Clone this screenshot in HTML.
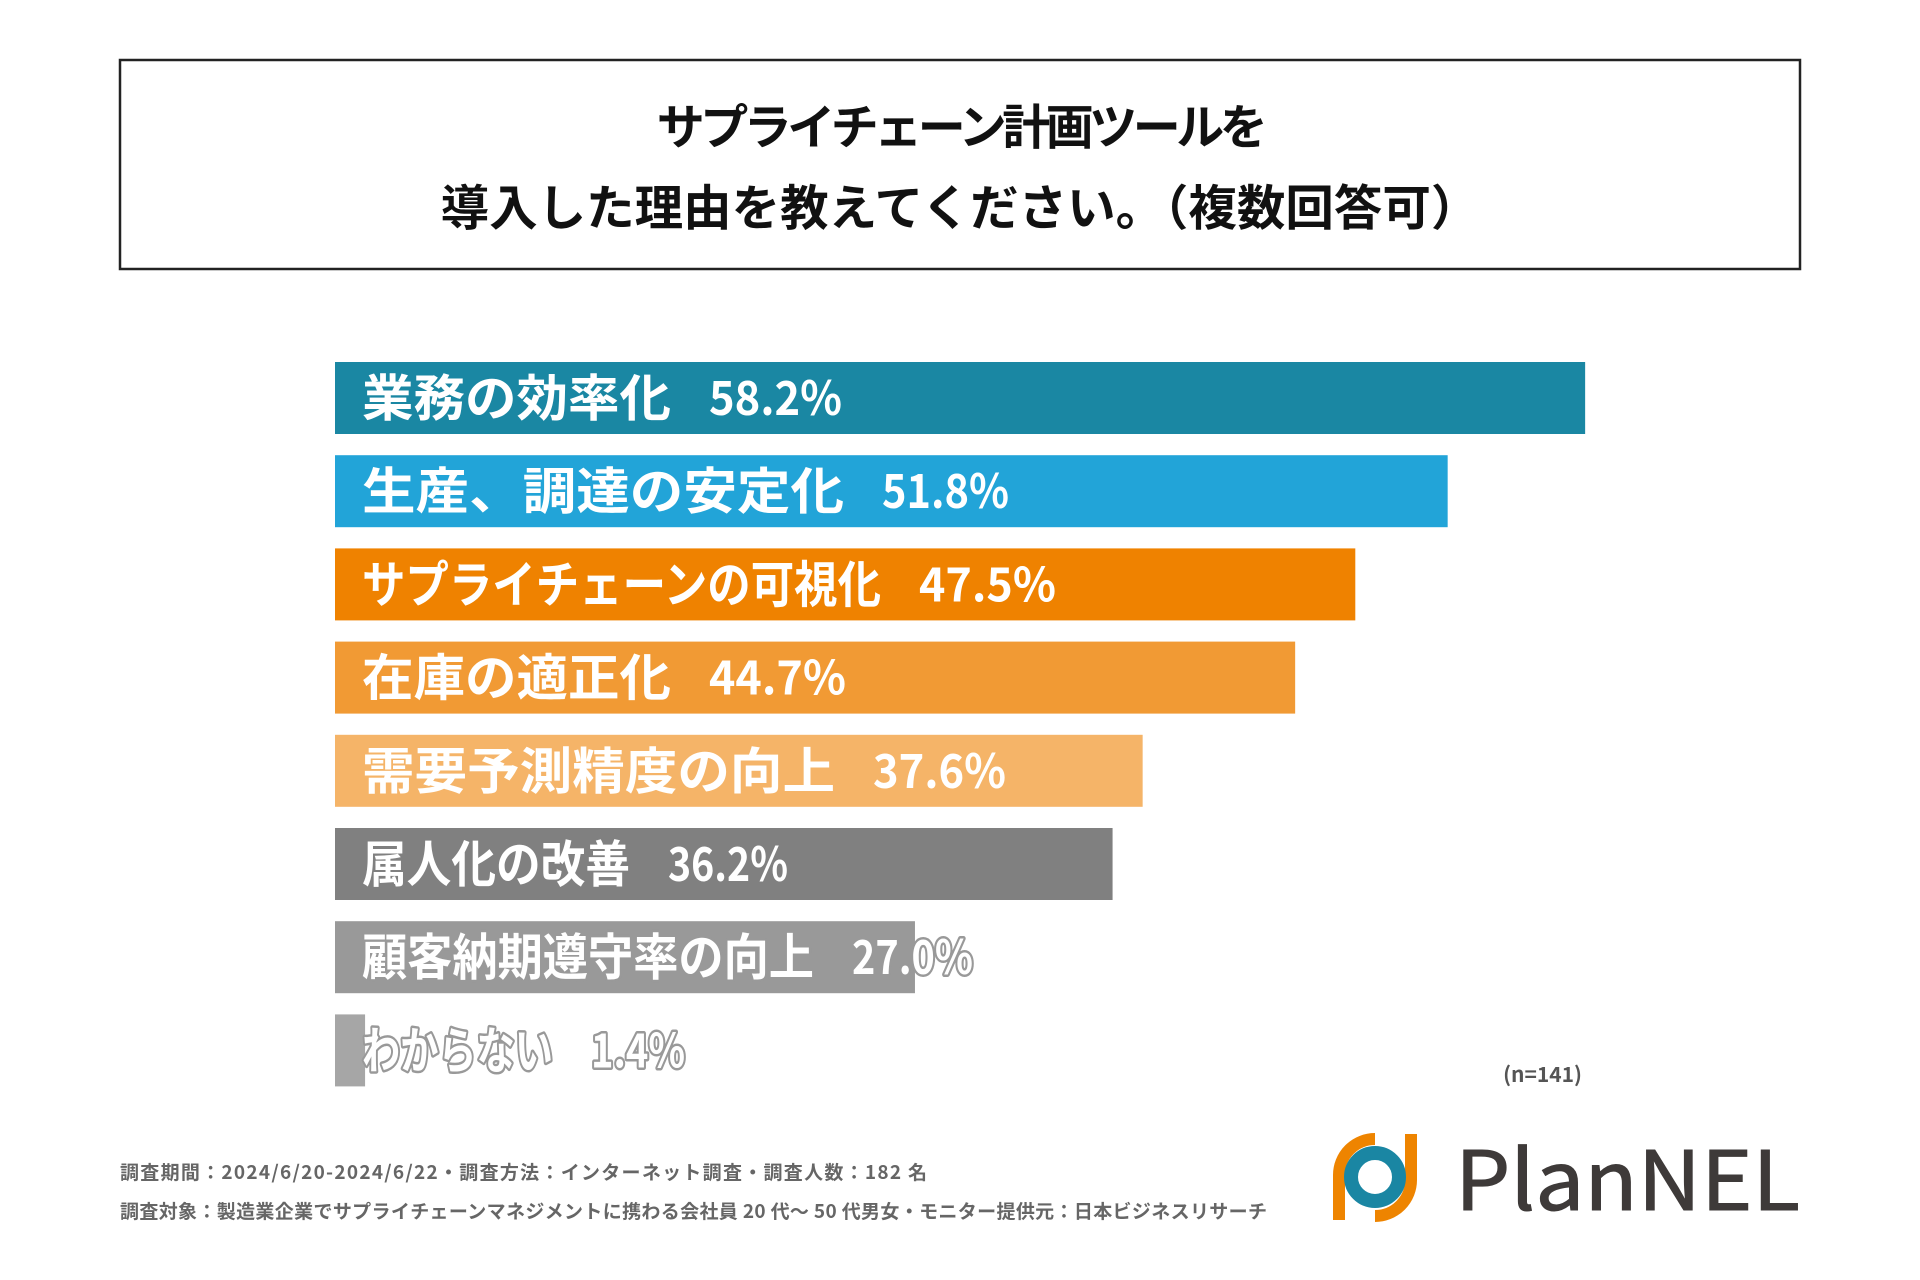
<!DOCTYPE html>
<html><head><meta charset="utf-8"><style>
html,body{margin:0;padding:0;background:#fff;width:1920px;height:1280px;overflow:hidden}
svg{display:block}
text{font-family:"Noto Sans CJK JP","Liberation Sans",sans-serif}
</style></head><body>
<svg id="chart" width="1920" height="1280">
<rect x="120" y="60" width="1680" height="209" fill="#fff" stroke="#222" stroke-width="2.5"/>
<text x="960" y="144" text-anchor="middle" font-size="48" font-weight="bold" fill="#111" letter-spacing="-4.5">サプライチェーン計画ツールを</text>
<text x="960" y="225" text-anchor="middle" font-size="48.5" font-weight="bold" fill="#111">導入した理由を教えてください。（複数回答可）</text>
<g id="bars"></g>
<text x="1582" y="1082" text-anchor="end" font-size="21" font-weight="bold" fill="#555">(n=141)</text>
<text x="120" y="1179" font-size="19" font-weight="bold" fill="#666" textLength="807" lengthAdjust="spacing">調査期間：2024/6/20-2024/6/22・調査方法：インターネット調査・調査人数：182 名</text>
<text x="120" y="1218" font-size="19" font-weight="bold" fill="#666" textLength="1147" lengthAdjust="spacing">調査対象：製造業企業でサプライチェーンマネジメントに携わる会社員 20 代〜 50 代男女・モニター提供元：日本ビジネスリサーチ</text>
<g>
<path d="M1339 1220 L1339 1175 A 36 36 0 0 1 1375 1139" fill="none" stroke="#ee8400" stroke-width="12"/>
<path d="M1411 1134 L1411 1180 A 36 36 0 0 1 1375 1216" fill="none" stroke="#ee8400" stroke-width="12"/>
<circle cx="1375" cy="1177" r="24" fill="none" stroke="#1a86a3" stroke-width="14"/>
<text x="1455" y="1210" font-size="82" fill="#3e3a39" stroke="#3e3a39" stroke-width="1" textLength="345" lengthAdjust="spacingAndGlyphs" font-family="Liberation Sans, sans-serif">PlanNEL</text>
</g>
</svg>
<script>
const categories=["業務の効率化","生産、調達の安定化","サプライチェーンの可視化","在庫の適正化","需要予測精度の向上","属人化の改善","顧客納期遵守率の向上","わからない"];
const values=[58.2,51.8,47.5,44.7,37.6,36.2,27.0,1.4];
const valueLabels=["58.2%","51.8%","47.5%","44.7%","37.6%","36.2%","27.0%","1.4%"];
const colors=["#1a87a3","#22a4d8","#ef8200","#f19a34","#f5b468","#808080","#999999","#a6a6a6"];
// layout: rendered label text widths (px)
const labelW=[309,482,519,309,473,268,452,191];
const pctW=[133,127,137,137,133,120,121,94];
const x0=335,pxPer=21.48,y0=362,pitch=93.2,bh=72,tx=362,gap=38;
const xs=v=>x0+v*pxPer;
const ys=i=>y0+i*pitch;
const NS="http://www.w3.org/2000/svg";
const g=document.getElementById('bars');
function style(t,i){
 t.setAttribute('font-weight','bold');
 t.setAttribute('fill','#fff');
 if(i>=6){t.setAttribute('stroke','#999');t.setAttribute('stroke-width','5');t.setAttribute('paint-order','stroke');t.setAttribute('stroke-linejoin','round');}
 t.setAttribute('lengthAdjust','spacingAndGlyphs');
}
categories.forEach((c,i)=>{
 const r=document.createElementNS(NS,'rect');
 r.setAttribute('x',x0);r.setAttribute('y',ys(i));
 r.setAttribute('width',xs(values[i])-x0);r.setAttribute('height',bh);
 r.setAttribute('fill',colors[i]);
 
 
 g.appendChild(r);
 const t=document.createElementNS(NS,'text');
 t.setAttribute('x',tx);t.setAttribute('y',ys(i)+bh/2+18);
 t.setAttribute('font-size','50');
 style(t,i);
 t.setAttribute('textLength',labelW[i]);
 t.textContent=c;
 
 
 g.appendChild(t);
 const p=document.createElementNS(NS,'text');
 p.setAttribute('x',tx+labelW[i]+gap);p.setAttribute('y',ys(i)+bh/2+17);
 p.setAttribute('font-size','47');
 style(p,i);
 p.setAttribute('textLength',pctW[i]);
 p.textContent=valueLabels[i];
 
 
 g.appendChild(p);
});
</script>
</body></html>
